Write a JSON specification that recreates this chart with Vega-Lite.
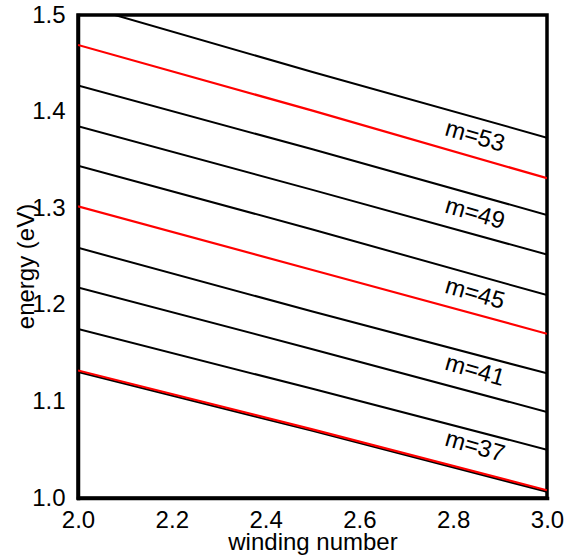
{
  "$schema": "https://vega.github.io/schema/vega-lite/v6.json",
  "width": 469,
  "height": 483,
  "autosize": "none",
  "padding": {"left": 78, "top": 15, "right": 19, "bottom": 59},
  "background": "white",
  "config": {
    "font": "Liberation Sans",
    "view": {"stroke": "black", "strokeWidth": 3.5},
    "axis": {
      "grid": false,
      "domain": true,
      "domainColor": "black",
      "domainWidth": 3.5,
      "domainCap": "square",
      "labelColor": "black",
      "labelFont": "Liberation Sans",
      "labelFontSize": 24,
      "labelFlush": false,
      "labelOverlap": false,
      "titleColor": "black",
      "titleFont": "Liberation Sans",
      "titleFontSize": 24,
      "titleFontWeight": "normal"
    }
  },
  "datasets": {
    "lines": [
      {"line": "L0", "kind": "black", "w": 2.0, "E": 1.511},
      {"line": "L0", "kind": "black", "w": 2.5, "E": 1.441},
      {"line": "L0", "kind": "black", "w": 3.0, "E": 1.373},
      {"line": "L1", "kind": "red", "w": 2.0, "E": 1.469},
      {"line": "L1", "kind": "red", "w": 2.5, "E": 1.401},
      {"line": "L1", "kind": "red", "w": 3.0, "E": 1.331},
      {"line": "L2", "kind": "black", "w": 2.0, "E": 1.427},
      {"line": "L2", "kind": "black", "w": 2.5, "E": 1.361},
      {"line": "L2", "kind": "black", "w": 3.0, "E": 1.293},
      {"line": "L3", "kind": "black", "w": 2.0, "E": 1.385},
      {"line": "L3", "kind": "black", "w": 2.5, "E": 1.319},
      {"line": "L3", "kind": "black", "w": 3.0, "E": 1.252},
      {"line": "L4", "kind": "black", "w": 2.0, "E": 1.344},
      {"line": "L4", "kind": "black", "w": 2.5, "E": 1.278},
      {"line": "L4", "kind": "black", "w": 3.0, "E": 1.210},
      {"line": "L5", "kind": "red", "w": 2.0, "E": 1.302},
      {"line": "L5", "kind": "red", "w": 2.5, "E": 1.236},
      {"line": "L5", "kind": "red", "w": 3.0, "E": 1.170},
      {"line": "L6", "kind": "black", "w": 2.0, "E": 1.259},
      {"line": "L6", "kind": "black", "w": 2.5, "E": 1.193},
      {"line": "L6", "kind": "black", "w": 3.0, "E": 1.129},
      {"line": "L7", "kind": "black", "w": 2.0, "E": 1.218},
      {"line": "L7", "kind": "black", "w": 2.5, "E": 1.154},
      {"line": "L7", "kind": "black", "w": 3.0, "E": 1.089},
      {"line": "L8", "kind": "black", "w": 2.0, "E": 1.175},
      {"line": "L8", "kind": "black", "w": 2.5, "E": 1.113},
      {"line": "L8", "kind": "black", "w": 3.0, "E": 1.050},
      {"line": "L9b", "kind": "black", "w": 2.0, "E": 1.1305},
      {"line": "L9b", "kind": "black", "w": 2.5, "E": 1.0695},
      {"line": "L9b", "kind": "black", "w": 3.0, "E": 1.0065},
      {"line": "L9", "kind": "red", "w": 2.0, "E": 1.132},
      {"line": "L9", "kind": "red", "w": 2.5, "E": 1.071},
      {"line": "L9", "kind": "red", "w": 3.0, "E": 1.008}
    ],
    "labels": [
      {"label": "m=53", "w": 2.846, "E": 1.374},
      {"label": "m=49", "w": 2.846, "E": 1.294},
      {"label": "m=45", "w": 2.846, "E": 1.211},
      {"label": "m=41", "w": 2.846, "E": 1.1315},
      {"label": "m=37", "w": 2.846, "E": 1.053}
    ],
    "xticks": [
      {"w": 2.0, "level": "major"}, {"w": 2.1, "level": "minor"},
      {"w": 2.2, "level": "major"}, {"w": 2.3, "level": "minor"},
      {"w": 2.4, "level": "major"}, {"w": 2.5, "level": "minor"},
      {"w": 2.6, "level": "major"}, {"w": 2.7, "level": "minor"},
      {"w": 2.8, "level": "major"}, {"w": 2.9, "level": "minor"},
      {"w": 3.0, "level": "major"}
    ],
    "yticks": [
      {"E": 1.0, "level": "major"}, {"E": 1.05, "level": "minor"},
      {"E": 1.1, "level": "major"}, {"E": 1.15, "level": "minor"},
      {"E": 1.2, "level": "major"}, {"E": 1.25, "level": "minor"},
      {"E": 1.3, "level": "major"}, {"E": 1.35, "level": "minor"},
      {"E": 1.4, "level": "major"}, {"E": 1.45, "level": "minor"},
      {"E": 1.5, "level": "major"}
    ]
  },
  "encoding": {
    "x": {
      "field": "w", "type": "quantitative",
      "scale": {"domain": [2, 3], "nice": false, "zero": false},
      "axis": {
        "orient": "bottom",
        "values": [2, 2.2, 2.4, 2.6, 2.8, 3],
        "format": ".1f",
        "ticks": false,
        "labelPadding": 10,
        "title": "winding number",
        "titleY": 51,
        "titleBaseline": "alphabetic"
      }
    },
    "y": {
      "field": "E", "type": "quantitative",
      "scale": {"domain": [1.0, 1.5], "nice": false, "zero": false},
      "axis": {
        "orient": "left",
        "values": [1, 1.1, 1.2, 1.3, 1.4, 1.5],
        "format": ".1f",
        "ticks": false,
        "labelPadding": 13,
        "title": "energy (eV)",
        "titleX": -52,
        "titleY": 251,
        "titleAngle": -90,
        "titleBaseline": "middle",
        "titleAlign": "center"
      }
    }
  },
  "layer": [
    {
      "data": {"name": "lines"},
      "transform": [{"filter": "datum.kind === 'black'"}],
      "mark": {"type": "line", "clip": true, "strokeWidth": 2, "color": "black"},
      "encoding": {"detail": {"field": "line", "type": "nominal"}}
    },
    {
      "data": {"name": "lines"},
      "transform": [{"filter": "datum.kind === 'red'"}],
      "mark": {"type": "line", "clip": true, "strokeWidth": 2.2, "color": "#ff0000"},
      "encoding": {"detail": {"field": "line", "type": "nominal"}}
    },
    {
      "data": {"name": "xticks"},
      "transform": [{"filter": "datum.level === 'major'"}],
      "mark": {"type": "rule", "strokeWidth": 3, "color": "black"},
      "encoding": {"y": {"datum": 1.0, "type": "quantitative"}, "y2": {"datum": 1.0145}}
    },
    {
      "data": {"name": "xticks"},
      "transform": [{"filter": "datum.level === 'minor'"}],
      "mark": {"type": "rule", "strokeWidth": 3, "color": "black"},
      "encoding": {"y": {"datum": 1.0, "type": "quantitative"}, "y2": {"datum": 1.0083}}
    },
    {
      "data": {"name": "xticks"},
      "transform": [{"filter": "datum.level === 'major'"}],
      "mark": {"type": "rule", "strokeWidth": 3, "color": "black"},
      "encoding": {"y": {"datum": 1.5, "type": "quantitative"}, "y2": {"datum": 1.4855}}
    },
    {
      "data": {"name": "xticks"},
      "transform": [{"filter": "datum.level === 'minor'"}],
      "mark": {"type": "rule", "strokeWidth": 3, "color": "black"},
      "encoding": {"y": {"datum": 1.5, "type": "quantitative"}, "y2": {"datum": 1.4917}}
    },
    {
      "data": {"name": "yticks"},
      "transform": [{"filter": "datum.level === 'major'"}],
      "mark": {"type": "rule", "strokeWidth": 3, "color": "black"},
      "encoding": {"x": {"datum": 2.0, "type": "quantitative"}, "x2": {"datum": 2.0299}}
    },
    {
      "data": {"name": "yticks"},
      "transform": [{"filter": "datum.level === 'minor'"}],
      "mark": {"type": "rule", "strokeWidth": 3, "color": "black"},
      "encoding": {"x": {"datum": 2.0, "type": "quantitative"}, "x2": {"datum": 2.0171}}
    },
    {
      "data": {"name": "yticks"},
      "transform": [{"filter": "datum.level === 'major'"}],
      "mark": {"type": "rule", "strokeWidth": 3, "color": "black"},
      "encoding": {"x": {"datum": 3.0, "type": "quantitative"}, "x2": {"datum": 2.9701}}
    },
    {
      "data": {"name": "yticks"},
      "transform": [{"filter": "datum.level === 'minor'"}],
      "mark": {"type": "rule", "strokeWidth": 3, "color": "black"},
      "encoding": {"x": {"datum": 3.0, "type": "quantitative"}, "x2": {"datum": 2.9829}}
    },
    {
      "data": {"name": "labels"},
      "mark": {"type": "text", "angle": 16, "fontSize": 24, "font": "Liberation Sans", "align": "center", "baseline": "middle", "color": "black"},
      "encoding": {"text": {"field": "label", "type": "nominal"}}
    }
  ]
}
